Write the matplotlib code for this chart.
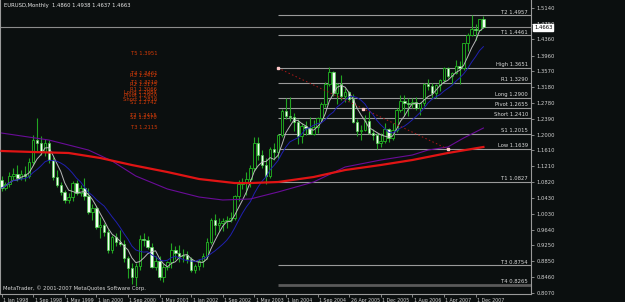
import numpy as np
import pandas as pd
import matplotlib
matplotlib.use('Agg')
import matplotlib.pyplot as plt
from matplotlib.transforms import ScaledTranslation

# monthly EURUSD bars, Jan 1998 .. Feb 2008 (broker data has an extra bar on 26 Apr 2005)
opens = [1.0872, 1.0673, 1.0773, 1.0971, 1.1021, 1.0922, 1.1021, 1.0971, 1.1319, 1.1864,
         1.1790, 1.1567, 1.1790, 1.1368, 1.0946, 1.0748, 1.0574, 1.0376, 1.0450, 1.0797,
         1.0549, 1.0673, 1.0475, 1.0078, 1.0177, 0.9706, 0.9755, 0.9582, 0.9135, 0.9458,
         0.9333, 0.9284, 0.8936, 0.8688, 0.8465, 0.8738, 0.9408, 0.9383, 0.9209, 0.8713,
         0.8862, 0.8465, 0.8713, 0.8837, 0.9135, 0.9061, 0.8986, 0.9011, 0.8912, 0.8639,
         0.8738, 0.8862, 0.8986, 0.9333, 0.9880, 0.9756, 0.9805, 0.9855, 0.9880, 0.9930,
         1.0475, 1.0773, 1.0798, 1.0897, 1.1170, 1.1790, 1.1492, 1.1244, 1.0970, 1.1641,
         1.1567, 1.1989, 1.2584, 1.2460, 1.2435, 1.2310, 1.1970, 1.2200, 1.2170, 1.2020,
         1.2180, 1.2410, 1.2760, 1.3260, 1.3560, 1.3040, 1.3260, 1.2960, 1.3060, 1.2870,
         1.2300, 1.2100, 1.2120, 1.2330, 1.2040, 1.1980, 1.1790, 1.1840, 1.2150, 1.1920,
         1.2120, 1.2620, 1.2840, 1.2790, 1.2770, 1.2810, 1.2670, 1.2780, 1.3260, 1.3200,
         1.3040, 1.3230, 1.3350, 1.3660, 1.3450, 1.3520, 1.3700, 1.3650, 1.4270, 1.4480,
         1.4630, 1.4590, 1.4860]
highs = [1.0971, 1.0822, 1.1071, 1.1170, 1.1244, 1.1120, 1.1219, 1.1418, 1.1988, 1.2411,
         1.1964, 1.1889, 1.1864, 1.1443, 1.1120, 1.0822, 1.0624, 1.0549, 1.0847, 1.0872,
         1.0748, 1.0922, 1.0673, 1.0277, 1.0227, 0.9954, 0.9805, 0.9656, 0.9507, 0.9557,
         0.9631, 0.9383, 0.8986, 0.8812, 0.8812, 0.9507, 0.9557, 0.9482, 0.9309, 0.8986,
         0.8986, 0.8788, 0.8862, 0.9309, 0.9234, 0.9259, 0.9160, 0.9110, 0.8962, 0.8788,
         0.8912, 0.9061, 0.9433, 0.9930, 1.0029, 0.9930, 0.9930, 0.9980, 1.0079, 1.0500,
         1.0872, 1.0922, 1.1070, 1.1244, 1.1933, 1.1939, 1.1616, 1.1418, 1.1691, 1.1790,
         1.2012, 1.2634, 1.2895, 1.2932, 1.2535, 1.2385, 1.2295, 1.2325, 1.2437, 1.2370,
         1.2430, 1.2812, 1.3300, 1.3667, 1.3570, 1.3275, 1.3480, 1.3150, 1.3080, 1.3010,
         1.2395, 1.2225, 1.2480, 1.2580, 1.2150, 1.2050, 1.2040, 1.2290, 1.2170, 1.2290,
         1.2650, 1.2980, 1.2980, 1.2910, 1.2910, 1.2920, 1.2810, 1.3290, 1.3370, 1.3270,
         1.3250, 1.3380, 1.3680, 1.3680, 1.3540, 1.3850, 1.3830, 1.4280, 1.4530, 1.4967,
         1.4750, 1.4875, 1.4938]
lows = [1.0599, 1.0624, 1.0698, 1.0872, 1.0847, 1.0872, 1.0847, 1.0922, 1.1244, 1.1567,
        1.1492, 1.1467, 1.1294, 1.0872, 1.0698, 1.0500, 1.0301, 1.0301, 1.0351, 1.0500,
        1.0475, 1.0376, 1.0028, 0.9880, 0.9656, 0.9433, 0.9483, 0.9061, 0.9061, 0.9234,
        0.9234, 0.8837, 0.8440, 0.8291, 0.8242, 0.8639, 0.9234, 0.9160, 0.8688, 0.8639,
        0.8391, 0.8341, 0.8639, 0.8688, 0.8912, 0.8837, 0.8837, 0.8812, 0.8590, 0.8565,
        0.8639, 0.8714, 0.8912, 0.9284, 0.9507, 0.9607, 0.9607, 0.9677, 0.9820, 0.9880,
        1.0351, 1.0649, 1.0500, 1.0698, 1.1095, 1.1368, 1.1170, 1.0772, 1.0922, 1.1368,
        1.1418, 1.1939, 1.2386, 1.2336, 1.2088, 1.1764, 1.1790, 1.1990, 1.2040, 1.1990,
        1.2040, 1.2320, 1.2690, 1.3200, 1.2950, 1.2760, 1.2860, 1.2800, 1.2840, 1.2290,
        1.1955, 1.1860, 1.2100, 1.2010, 1.1870, 1.1639, 1.1700, 1.1800, 1.1820, 1.1865,
        1.2070, 1.2570, 1.2460, 1.2450, 1.2660, 1.2620, 1.2480, 1.2710, 1.3100, 1.2870,
        1.2900, 1.3070, 1.3310, 1.3410, 1.3260, 1.3510, 1.3260, 1.3590, 1.4070, 1.4435,
        1.4350, 1.4565, 1.4637]
closes = [1.0673, 1.0773, 1.0971, 1.1021, 1.0922, 1.1021, 1.0971, 1.1319, 1.1864, 1.1790,
          1.1567, 1.1790, 1.1368, 1.0946, 1.0748, 1.0574, 1.0376, 1.0450, 1.0797, 1.0549,
          1.0673, 1.0475, 1.0078, 1.0177, 0.9706, 0.9755, 0.9582, 0.9135, 0.9458, 0.9333,
          0.9284, 0.8936, 0.8688, 0.8465, 0.8738, 0.9408, 0.9383, 0.9209, 0.8713, 0.8862,
          0.8465, 0.8713, 0.8837, 0.9135, 0.9061, 0.8986, 0.9011, 0.8912, 0.8639, 0.8738,
          0.8862, 0.8986, 0.9333, 0.9880, 0.9756, 0.9805, 0.9855, 0.9880, 0.9930, 1.0475,
          1.0773, 1.0798, 1.0897, 1.1170, 1.1790, 1.1492, 1.1244, 1.0970, 1.1641, 1.1567,
          1.1989, 1.2584, 1.2460, 1.2435, 1.2310, 1.1970, 1.2200, 1.2170, 1.2020, 1.2180,
          1.2410, 1.2760, 1.3260, 1.3560, 1.3040, 1.3260, 1.2960, 1.3060, 1.2870, 1.2300,
          1.2100, 1.2120, 1.2330, 1.2040, 1.1980, 1.1790, 1.1840, 1.2150, 1.1920, 1.2120,
          1.2620, 1.2840, 1.2790, 1.2770, 1.2810, 1.2670, 1.2780, 1.3260, 1.3200, 1.3040,
          1.3230, 1.3350, 1.3660, 1.3450, 1.3520, 1.3700, 1.3650, 1.4270, 1.4480, 1.4630,
          1.4590, 1.4860, 1.4663]

# slow averages (they need history before 1998)
purple_idx = [0, 12, 22, 28, 34, 42, 50, 56, 63, 70, 79, 87, 96, 104, 108, 113, 117, 122]
purple_val = [1.2038, 1.1864, 1.1616, 1.1343, 1.0971, 1.0649, 1.0450, 1.0376, 1.0401, 1.0574,
              1.0822, 1.1195, 1.1368, 1.1492, 1.1616, 1.1691, 1.1914, 1.2162]
red_idx = [0, 8, 17, 25, 33, 42, 50, 59, 63, 70, 79, 87, 96, 104, 113, 122]
red_val = [1.1592, 1.1567, 1.1542, 1.1418, 1.1244, 1.1070, 1.0897, 1.0797, 1.0797, 1.0822,
           1.0946, 1.1120, 1.1244, 1.1368, 1.1542, 1.1691]

level_names = ['T2', 'T1', 'High', 'R1', 'Long', 'Pivot', 'Short', 'S1', 'Low', 'T1', 'T3', 'T4']
level_vals = [1.4957, 1.4461, 1.3651, 1.3290, 1.2900, 1.2655, 1.2410, 1.2015, 1.1639, 1.0827, 0.8754, 0.8265]
level_start = 70

trend_idx = [70, 91.5, 113]
trend_val = [1.3651, 1.2645, 1.1639]

red_texts = ['T5 1.3951', 'T4 1.3461', 'R3 1.3412', 'T1 1.3219', 'R2 1.3175', 'R1 1.3066',
             'Long 1.2984', 'Pivot 1.2900', 'Short 1.2816', 'S1 1.2742', 'T2 1.2415',
             'S2 1.2370', 'T3 1.2115']
red_prices = [1.3951, 1.3461, 1.3412, 1.3219, 1.3175, 1.3066, 1.2984, 1.2900, 1.2816,
              1.2742, 1.2415, 1.2370, 1.2115]

price_ticks = [1.5140, 1.4750, 1.4360, 1.3960, 1.3570, 1.3180, 1.2780, 1.2390, 1.2000, 1.1610,
               1.1210, 1.0820, 1.0430, 1.0030, 0.9640, 0.9250, 0.8850, 0.8460, 0.8070]
date_idx = [0, 8, 16, 24, 32, 40, 48, 56, 64, 72, 80, 88, 96, 104, 112, 120]
date_labels = ['1 Jan 1998', '1 Sep 1998', '1 May 1999', '1 Jan 2000', '1 Sep 2000', '1 May 2001',
               '1 Jan 2002', '1 Sep 2002', '1 May 2003', '1 Jan 2004', '1 Sep 2004', '26 Apr 2005',
               '1 Dec 2005', '1 Aug 2006', '1 Apr 2007', '1 Dec 2007']
last_price = 1.4663

bg = '#0b0f0f'
grid_col = '#9a9a9a'
plt.rcParams['font.family'] = ['Liberation Sans Narrow', 'DejaVu Sans']
fs = 3.8

fig = plt.figure(figsize=(6.25, 3.02), dpi=100, facecolor=bg)
ax = fig.add_axes([0, 8 / 302, 531 / 625, 294 / 302])
ax.set_facecolor(bg)

df = pd.DataFrame({'o': opens, 'h': highs, 'l': lows, 'c': closes})
x = np.arange(len(df))
up = df.c >= df.o

# candles
ax.vlines(x, df.l, df.h, color='#22a522', lw=0.8, zorder=2)
body = (df.c - df.o).abs().clip(lower=0.0012)
ax.bar(x[up], body[up], bottom=df.o[up], width=0.62, color=bg, edgecolor='#22b822', lw=0.6, zorder=3)
ax.bar(x[~up], body[~up], bottom=df.c[~up], width=0.62, color='#f4fff4', edgecolor='#50d050', lw=0.5, zorder=3)

# moving averages
ax.plot(x, df.c.rolling(5, min_periods=1).mean(), color='#b8b8b8', lw=0.7, zorder=4)
ax.plot(x, df.c.rolling(10, min_periods=1).mean(), color='#2020b0', lw=0.7, zorder=4)
ax.plot(purple_idx, purple_val, color='#6a0c98', lw=0.8, zorder=4)
ax.plot(red_idx, red_val, color='#e01414', lw=1.6, zorder=4)

xmax = 134.05
# levels
for name, v in zip(level_names, level_vals):
    if name == 'T4':
        ax.hlines(v, level_start, xmax, color='#5a5a5a', lw=2.0, zorder=1)
    else:
        ax.hlines(v, level_start, xmax, color=grid_col, lw=0.8, zorder=1)
    ax.text(133.3, v + 0.002, '%s %.4f' % (name, v), color='#d8d8d8', fontsize=fs,
            ha='right', va='bottom', zorder=5)

ax.axhline(last_price, color='#8c8c8c', lw=0.8, zorder=1)

# high-low trendline
ax.plot(trend_idx[::2], trend_val[::2], color='#b01818', lw=0.7, ls=(0, (1.5, 2.5)), zorder=4)
ax.plot(trend_idx, trend_val, ls='none', marker='s', ms=1.6, color='#ffc8c8', zorder=5)

for t, p in zip(red_texts, red_prices):
    ax.text(39.4, p, t, color='#d03a08', fontsize=fs, ha='right', va='bottom', zorder=5)

ax.set_xlim(-0.38, xmax)
ax.set_ylim(0.8043, 1.5339)

ax.yaxis.tick_right()
ax.set_yticks(price_ticks)
ax.set_yticklabels(['%.4f' % v for v in price_ticks])
ax.tick_params(axis='y', colors=grid_col, labelcolor='#d0d0d0', labelsize=fs, length=2.5, width=0.6, pad=1.5)
ax.set_xticks(date_idx)
ax.set_xticklabels(date_labels)
ax.tick_params(axis='x', colors=grid_col, labelcolor='#d0d0d0', labelsize=3.4, length=2.5, width=0.6, pad=0.3)
shift = ScaledTranslation(1.5 / 100, 0, fig.dpi_scale_trans)
for lab in ax.get_xticklabels():
    lab.set_horizontalalignment('left')
    lab.set_transform(lab.get_transform() + shift)

for s in ['left', 'right', 'bottom']:
    ax.spines[s].set_color(grid_col)
    ax.spines[s].set_linewidth(0.8)
ax.spines['top'].set_visible(False)

# current price tag
ax.text(1.006, last_price, '%.4f' % last_price, transform=ax.get_yaxis_transform(),
        fontsize=fs, color='black', va='center', ha='left', zorder=6,
        bbox=dict(boxstyle='square,pad=0.15', fc='white', ec='white'))

fig.text(4 / 625, 1 - 5 / 302, 'EURUSD,Monthly  1.4860 1.4938 1.4637 1.4663', color='#e8e8e8',
         fontsize=fs, va='center', ha='left')
fig.text(3 / 625, 1 - 288 / 302, 'MetaTrader, \u00a9 2001-2007 MetaQuotes Software Corp.', color='#d8d8d8',
         fontsize=fs, va='center', ha='left')

fig.savefig('out.png', dpi=100, facecolor=bg)
